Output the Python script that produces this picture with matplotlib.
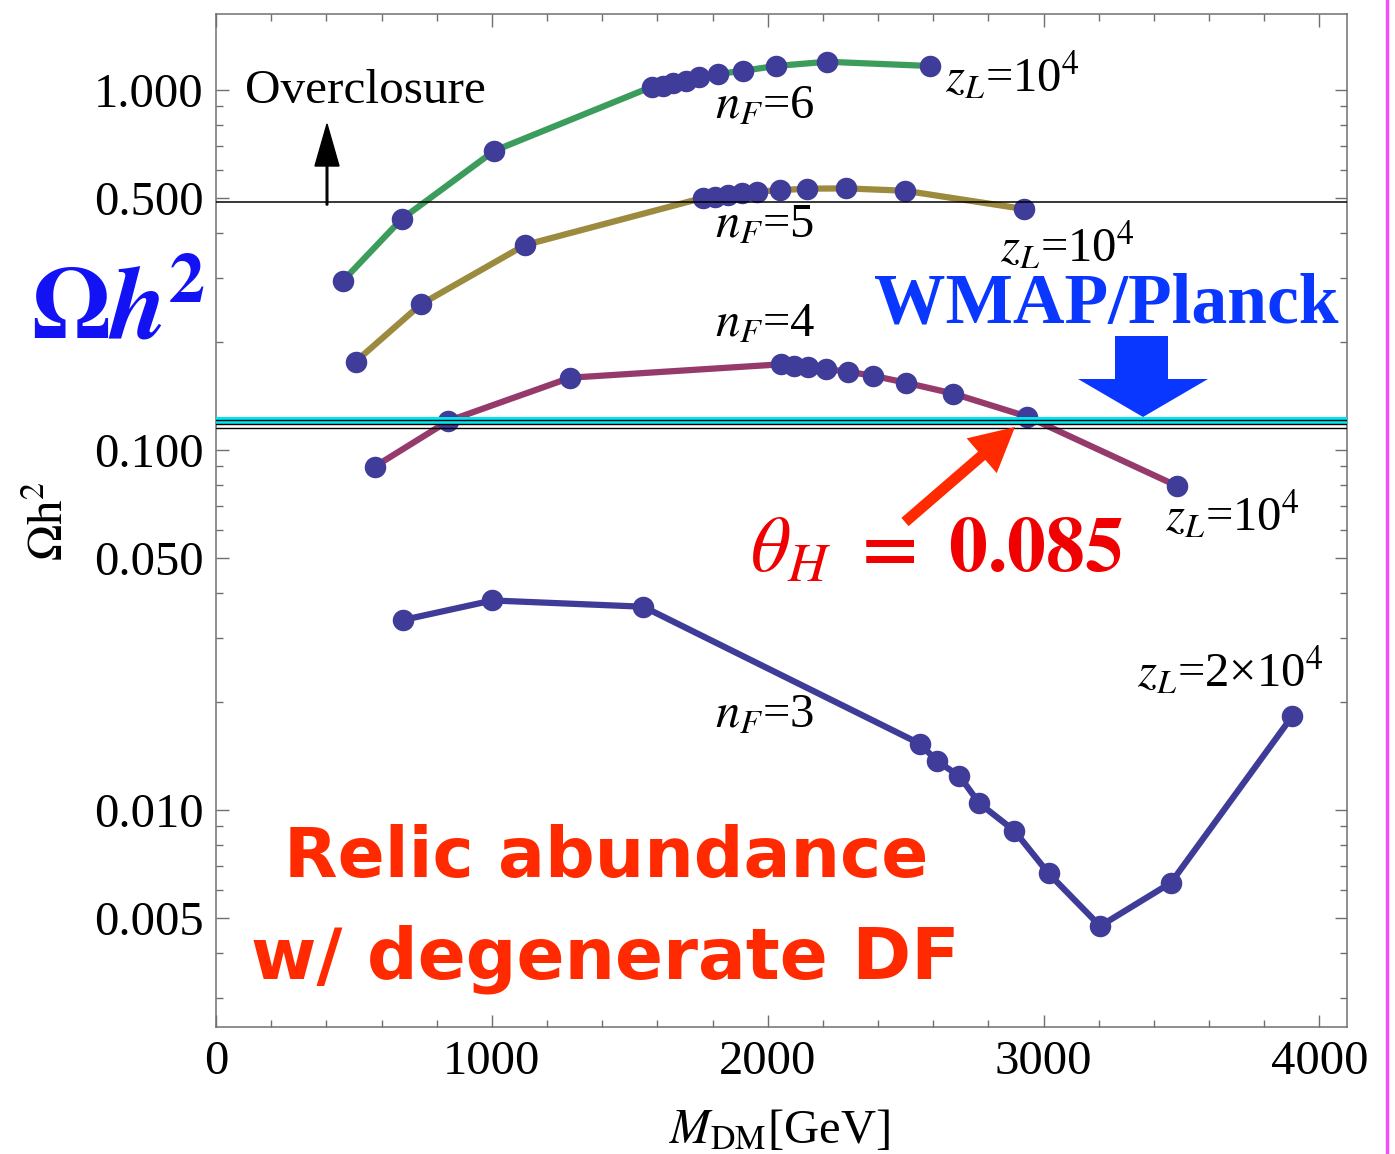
import numpy as np
import matplotlib
matplotlib.use('Agg')
import matplotlib.pyplot as plt
from matplotlib.transforms import Affine2D
from matplotlib import patches
from matplotlib.lines import Line2D
from matplotlib.ticker import FixedLocator, FixedFormatter, NullFormatter

plt.rcParams['font.family'] = ['Liberation Serif', 'DejaVu Sans']
plt.rcParams['mathtext.fontset'] = 'stix'

W, H = 1395, 1154

# ---------------- data ----------------
m_nf6 = [460, 673, 1009, 1580, 1621, 1657, 1704, 1750, 1820, 1911, 2030, 2215, 2589]
om_nf6 = [0.295, 0.438, 0.678, 1.021, 1.025, 1.048, 1.059, 1.089, 1.108, 1.131, 1.166, 1.198, 1.166]
m_nf5 = [506, 743, 1120, 1767, 1809, 1857, 1906, 1960, 2045, 2144, 2284, 2498, 2930]
om_nf5 = [0.176, 0.254, 0.371, 0.502, 0.506, 0.511, 0.516, 0.522, 0.527, 0.532, 0.533, 0.525, 0.467]
m_nf4 = [575, 842, 1284, 2048, 2097, 2145, 2210, 2291, 2380, 2501, 2672, 2941, 3485]
om_nf4 = [0.0899, 0.1204, 0.1588, 0.1730, 0.1715, 0.1697, 0.1679, 0.1650, 0.1609, 0.1538, 0.1435, 0.1238, 0.0794]
m_nf3 = [677, 1002, 1549, 2553, 2613, 2695, 2767, 2894, 3018, 3205, 3462, 3902]
om_nf3 = [0.0337, 0.0382, 0.0367, 0.01526, 0.01368, 0.01243, 0.01044, 0.00876, 0.00667, 0.00476, 0.00628, 0.01824]

overclosure = 0.489
planck_band = (0.1183, 0.1233)
wmap_lines = [0.1208, 0.1179, 0.1151]

yticks = [0.005, 0.01, 0.05, 0.1, 0.5, 1.0]
yticklabels = ['0.005', '0.010', '0.050', '0.100', '0.500', '1.000']
xticks = [0, 1000, 2000, 3000, 4000]
xticklabels = ['0', '1000', '2000', '3000', '4000']

series = [
    (m_nf6, om_nf6, '#3C9C5C'),
    (m_nf5, om_nf5, '#9C8A3E'),
    (m_nf4, om_nf4, '#963A6C'),
    (m_nf3, om_nf3, '#3E3C98'),
]
marker_color = '#403C9A'

# ---------------- figure ----------------
fig = plt.figure(figsize=(W / 100, H / 100), dpi=100)
ax = fig.add_axes([216 / W, 1 - 1027 / H, (1347 - 216) / W, (1027 - 14) / H])
PX = Affine2D().scale(1 / W, -1 / H).translate(0, 1) + fig.transFigure

for xs, ys, c in series:
    ax.plot(xs, ys, '-', color=c, lw=4.5, zorder=3)
    ax.plot(xs, ys, 'o', color=marker_color, ms=15.5, mec='none', zorder=4)

ax.axhline(overclosure, color='black', lw=1.1, zorder=5)
ax.axhspan(planck_band[0], planck_band[1], color='#00E5F0', lw=0, zorder=5)
for v in wmap_lines:
    ax.axhline(v, color='black', lw=1.0, zorder=6)

ax.set_yscale('log')
ax.set_ylim(0.002496, 1.626)
ax.set_xlim(0, 4100)

ax.yaxis.set_major_locator(FixedLocator(yticks))
ax.yaxis.set_major_formatter(FixedFormatter(yticklabels))
minors = [k * 10.0 ** e for e in range(-3, 1) for k in range(1, 10)]
minors = [v for v in minors if all(abs(v - t) > 1e-9 for t in yticks)]
ax.yaxis.set_minor_locator(FixedLocator(minors))
ax.yaxis.set_minor_formatter(NullFormatter())
ax.xaxis.set_major_locator(FixedLocator(xticks))
ax.xaxis.set_major_formatter(FixedFormatter(xticklabels))
ax.xaxis.set_minor_locator(FixedLocator(np.arange(0, 4101, 200)))

ax.tick_params(which='both', direction='in', top=True, right=True,
               color='#707070', labelcolor='black', labelsize=35, width=1.0)
ax.tick_params(which='major', length=9, pad=9)
ax.tick_params(which='minor', length=5)
for s in ax.spines.values():
    s.set_color('#707070')
    s.set_linewidth(1.1)

# axis labels
fig.text(50, 521, r'$\Omega$h$^2$', transform=PX, fontsize=35, rotation=90,
         ha='center', va='center')
fig.text(780, 1143, r'$M_{\rm DM}$[GeV]', transform=PX, fontsize=35,
         ha='center', va='baseline')

# annotations
fig.text(245, 103, 'Overclosure', transform=PX, fontsize=35.5, ha='left', va='baseline')
fig.add_artist(patches.FancyArrow(327, 205, 0, -81, width=1.6, head_width=24,
                                  head_length=42, length_includes_head=True,
                                  color='black', transform=PX))

fig.text(715, 118, r'$n_F$=6', transform=PX, fontsize=35, ha='left', va='baseline')
fig.text(715, 237, r'$n_F$=5', transform=PX, fontsize=35, ha='left', va='baseline')
fig.text(715, 336, r'$n_F$=4', transform=PX, fontsize=35, ha='left', va='baseline')
fig.text(715, 727, r'$n_F$=3', transform=PX, fontsize=35, ha='left', va='baseline')

fig.text(945, 92, r'$z_L$=10$^4$', transform=PX, fontsize=35, ha='left', va='baseline')
fig.text(1000, 262, r'$z_L$=10$^4$', transform=PX, fontsize=35, ha='left', va='baseline')
fig.text(1165, 531, r'$z_L$=10$^4$', transform=PX, fontsize=35, ha='left', va='baseline')
fig.text(1137, 687, r'$z_L$=2×10$^4$', transform=PX, fontsize=35, ha='left', va='baseline')

fig.text(118, 340, r'$\mathbf{\Omega}\boldsymbol{h}^{\mathbf{2}}$', transform=PX,
         fontsize=74, color='#1212F4', ha='center', va='baseline')
fig.text(1106, 323, 'WMAP/Planck', transform=PX, fontsize=51.5, fontweight='bold',
         color='#0A37FF', ha='center', va='baseline')
blue_arrow = [(1115, 336), (1168, 336), (1168, 379), (1208, 379), (1143, 417),
              (1078, 379), (1115, 379)]
fig.add_artist(patches.Polygon(blue_arrow, closed=True, color='#0A37FF', lw=0,
                               transform=PX))

fig.text(936, 571, r'$\boldsymbol{\theta_H}\ \mathbf{=}\ \mathbf{0.085}$', transform=PX,
         fontsize=56, color='#F00000', ha='center', va='baseline')
fig.add_artist(patches.FancyArrow(905, 522, 110, -95, width=11, head_width=46,
                                  head_length=44, length_includes_head=True,
                                  color='#FF2A00', lw=0, transform=PX))

fig.text(606, 877, 'Relic abundance', transform=PX, fontsize=50,
         family='DejaVu Sans', fontweight='bold', color='#FF2A00',
         ha='center', va='baseline')
fig.text(605, 978, 'w/ degenerate DF', transform=PX, fontsize=51,
         family='DejaVu Sans', fontweight='bold', color='#FF2A00',
         ha='center', va='baseline')

# pink border line at right
fig.add_artist(Line2D([1387, 1387], [0, H], color='#F050F0', lw=2.5, transform=PX))

fig.savefig('out.png', dpi=100)
